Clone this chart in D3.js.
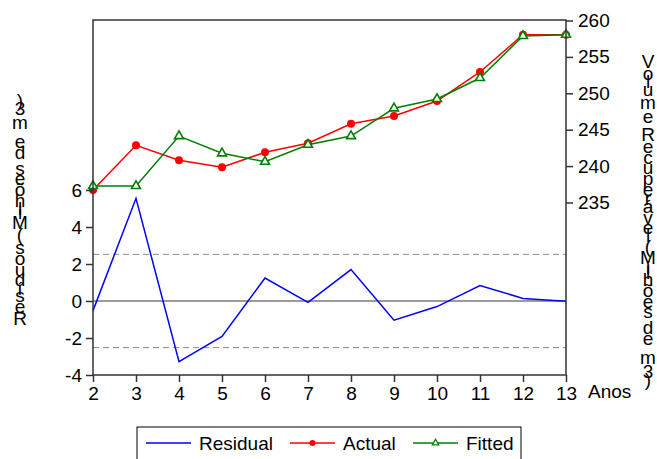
<!DOCTYPE html>
<html><head><meta charset="utf-8">
<script src="https://cdn.jsdelivr.net/npm/d3@7"></script>
<style>body{margin:0;background:#fff;} svg{display:block;} text{font-family:"Liberation Sans",Arial,sans-serif;fill:#000;}</style>
</head><body><svg id="c" width="657" height="459"></svg>
<script>
// ---- data ----
const years    = [2, 3, 4, 5, 6, 7, 8, 9, 10, 11, 12, 13];
const residual = [-0.52, 5.55, -3.28, -1.92, 1.24, -0.07, 1.70, -1.04, -0.30, 0.84, 0.14, -0.02];
const actual   = [236.72, 242.86, 240.80, 239.84, 241.90, 243.13, 245.82, 246.88, 248.94, 252.93, 258.05, 258.05];
const fitted   = [237.27, 237.27, 244.13, 241.76, 240.60, 242.94, 244.13, 247.94, 249.22, 252.10, 257.87, 258.05];
const leftTicks  = [-4, -2, 0, 2, 4, 6];
const rightTicks = [235, 240, 245, 250, 255, 260];
const xTicks     = [2, 3, 4, 5, 6, 7, 8, 9, 10, 11, 12, 13];
const bands      = [2.52, -2.52];
const seriesNames = ["Residual", "Actual", "Fitted"];
const xTitle = "Anos";
const leftTitle = "Resíduos (Milhões de m3)";
const rightTitle = "Volume Recuperável (Milhões de m3)";

// ---- layout ----
const L = 93, R = 566, T = 20, B = 375;
const FS = 19;
const svg = d3.select("#c");
const x  = d3.scaleLinear().domain([2, 13]).range([L, R]);
const yL = d3.scaleLinear().domain([-4, 15.19]).range([B, T]);
const yR = d3.scaleLinear().domain([211.3, 260.07]).range([B, T]);

const cBlue = "#0000ff", cRed = "#ff0000", cGreen = "#008000";

// reference lines
svg.append("g").selectAll("line").data(bands).join("line")
  .attr("x1", L).attr("x2", R).attr("y1", d => yL(d)).attr("y2", d => yL(d))
  .attr("stroke", "#8a8a8a").attr("stroke-width", 1).attr("stroke-dasharray", "6,4");
svg.append("line").attr("x1", L).attr("x2", R).attr("y1", yL(0)).attr("y2", yL(0))
  .attr("stroke", "#7a7a7a").attr("stroke-width", 1.5);

// series
const lineL = d3.line().x((d, i) => x(years[i])).y(d => yL(d));
const lineR = d3.line().x((d, i) => x(years[i])).y(d => yR(d));
svg.append("path").datum(residual).attr("d", lineL).attr("fill", "none").attr("stroke", cBlue).attr("stroke-width", 1.5);
svg.append("path").datum(actual).attr("d", lineR).attr("fill", "none").attr("stroke", cRed).attr("stroke-width", 1.5);
svg.append("path").datum(fitted).attr("d", lineR).attr("fill", "none").attr("stroke", cGreen).attr("stroke-width", 1.5);
svg.append("g").selectAll("circle").data(actual).join("circle")
  .attr("cx", (d, i) => x(years[i])).attr("cy", d => yR(d)).attr("r", 4).attr("fill", cRed);
const tri = d3.symbol().type(d3.symbolTriangle).size(34);
svg.append("g").selectAll("path").data(fitted).join("path")
  .attr("d", tri).attr("transform", (d, i) => `translate(${x(years[i])},${yR(d)})`)
  .attr("fill", "#fff").attr("stroke", cGreen).attr("stroke-width", 1.6);

// frame
svg.append("rect").attr("x", L).attr("y", T).attr("width", R - L).attr("height", B - T)
  .attr("fill", "none").attr("stroke", "#333").attr("stroke-width", 1.5);

// axes
const fmt = d => String(d);
function styleAxis(g) {
  g.select(".domain").remove();
  g.selectAll(".tick line").attr("stroke", "#333").attr("stroke-width", 1.5);
  g.selectAll(".tick text").attr("font-size", FS).attr("font-family", '"Liberation Sans",Arial,sans-serif').attr("fill", "#000");
}
svg.append("g").attr("transform", `translate(${L},0)`)
  .call(d3.axisLeft(yL).tickValues(leftTicks).tickSize(7).tickPadding(4).tickFormat(fmt))
  .call(styleAxis);
svg.append("g").attr("transform", `translate(${R},0)`)
  .call(d3.axisRight(yR).tickValues(rightTicks).tickSize(7).tickPadding(5).tickFormat(fmt))
  .call(styleAxis);
svg.append("g").attr("transform", `translate(0,${B})`)
  .call(d3.axisBottom(x).tickValues(xTicks).tickSize(7).tickPadding(5).tickFormat(fmt))
  .call(styleAxis);

svg.append("text").attr("x", 588).attr("y", 398).attr("font-size", FS).text(xTitle);

// stacked vertical titles (upright glyphs spaced by advance width)
const cvs = document.createElement("canvas").getContext("2d");
cvs.font = `19.6px "Liberation Sans", Arial, sans-serif`;
function stacked(str, cx, cy, upward) {
  const chars = Array.from(str);
  const w = chars.map(c => cvs.measureText(c).width);
  const total = d3.sum(w);
  let pos = -total / 2;
  const g = svg.append("g");
  chars.forEach((c, i) => {
    const mid = pos + w[i] / 2;
    pos += w[i];
    if (c === " ") return;
    const yy = upward ? cy - mid : cy + mid;
    g.append("text").attr("x", cx).attr("y", yy).attr("dy", "0.36em")
      .attr("text-anchor", "middle").attr("font-size", FS).text(c);
  });
}
stacked(leftTitle, 20, 211, true);
stacked(rightTitle, 648, 219, false);

// legend
const lg = svg.append("g");
lg.append("rect").attr("x", 137).attr("y", 427).attr("width", 384).attr("height", 45)
  .attr("fill", "#fff").attr("stroke", "#000").attr("stroke-width", 1);
const ly = 443;
const items = [
  {name: seriesNames[0], c: cBlue, x0: 146, mark: null},
  {name: seriesNames[1], c: cRed, x0: 290, mark: "circle"},
  {name: seriesNames[2], c: cGreen, x0: 413, mark: "tri"}
];
items.forEach(it => {
  lg.append("line").attr("x1", it.x0).attr("x2", it.x0 + 45).attr("y1", ly).attr("y2", ly)
    .attr("stroke", it.c).attr("stroke-width", 1.5);
  if (it.mark === "circle") lg.append("circle").attr("cx", it.x0 + 22.5).attr("cy", ly).attr("r", 3).attr("fill", it.c);
  if (it.mark === "tri") lg.append("path").attr("d", d3.symbol().type(d3.symbolTriangle).size(18))
    .attr("transform", `translate(${it.x0 + 22.5},${ly})`).attr("fill", "#fff").attr("stroke", it.c).attr("stroke-width", 1.3);
  lg.append("text").attr("x", it.x0 + 53).attr("y", ly).attr("dy", "0.35em").attr("font-size", FS).text(it.name);
});
</script></body></html>
